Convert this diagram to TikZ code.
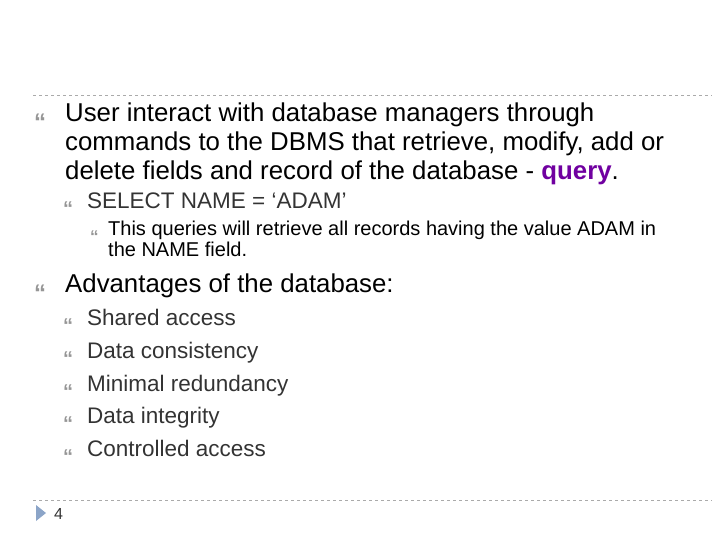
\documentclass[tikz,border=0pt]{standalone}
\usepackage{fontspec}
\setmainfont{Liberation Sans}
\definecolor{bul}{RGB}{150,150,150}
\definecolor{dashc}{RGB}{170,170,170}
\definecolor{qry}{RGB}{112,0,160}
\definecolor{tri}{RGB}{140,165,200}
\begin{document}
\begin{tikzpicture}[x=1pt,y=-1pt,
  t/.style={anchor=base west,inner sep=0pt,text=black},
  bl/.style={anchor=base west,inner sep=0pt,text=bul}]
\useasboundingbox (0,0) rectangle (720,540);
\draw[dashc,dashed,line width=0.8pt] (33,95) -- (712,95);
\draw[dashc,dashed,line width=0.8pt] (33,500) -- (712,500);
\fill[tri] (36,505) -- (46,513) -- (36,521) -- cycle;
\node[t,font=\fontsize{16}{18}\selectfont,text=black!80] (pg) at (54,519) {4};
\node[bl,font=\fontsize{24}{26}\selectfont\bfseries] (b1) at (34,131) {“};
\node[t,font=\fontsize{25.8}{29}\selectfont] (l1) at (65,122) {User interact with database managers through};
\node[t,font=\fontsize{25.8}{29}\selectfont] (l2) at (65,151) {commands to the DBMS that retrieve, modify, add or};
\node[t,font=\fontsize{25.8}{29}\selectfont] (l3) at (65,180) {delete fields and record of the database - \textcolor{qry}{\textbf{query}}.};
\node[bl,font=\fontsize{20}{22}\selectfont\bfseries] (b2) at (63,215) {“};
\node[t,font=\fontsize{22.5}{24}\selectfont,text=black!80] (s1) at (87,208) {SELECT NAME = ‘ADAM’};
\node[bl,font=\fontsize{17}{19}\selectfont\bfseries] (b3) at (90,242) {“};
\node[t,font=\fontsize{20}{20}\selectfont] (q1) at (108,236) {This queries will retrieve all records having the value ADAM in};
\node[t,font=\fontsize{20}{20}\selectfont] (q2) at (108,256) {the NAME field.};
\node[bl,font=\fontsize{24}{26}\selectfont\bfseries] (b4) at (34,301) {“};
\node[t,font=\fontsize{25.8}{29}\selectfont] (adv) at (65,292) {Advantages of the database:};
\foreach \y/\s in {325/Shared access,358/Data consistency,391/Minimal redundancy,423/Data integrity,456/Controlled access}{
  \node[bl,font=\fontsize{20}{22}\selectfont\bfseries] at (63,\y+7) {“};
  \node[t,font=\fontsize{22.5}{24}\selectfont,text=black!80] at (87,\y) {\s};
}
\end{tikzpicture}
\end{document}
